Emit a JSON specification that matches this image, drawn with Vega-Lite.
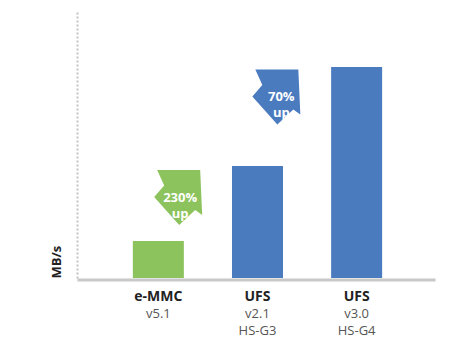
{
  "$schema": "https://vega.github.io/schema/vega-lite/v6.json",
  "width": 358,
  "height": 266,
  "autosize": {"type": "none"},
  "padding": {"left": 77, "top": 12, "right": 33, "bottom": 74},
  "config": {"view": {"stroke": null}, "font": "Open Sans"},
  "datasets": {
    "bars": [
      {"name": "e-MMC v5.1", "pos": 1, "mbps": 370, "kind": "e-MMC"},
      {"name": "UFS v2.1 HS-G3", "pos": 2, "mbps": 1120, "kind": "UFS"},
      {"name": "UFS v3.0 HS-G4", "pos": 3, "mbps": 2110, "kind": "UFS"}
    ],
    "arrows": [
      {"ax": 1.2, "ay": 805, "kind": "e-MMC", "tx": 1.22, "ty": 800, "label": ["230%", "up"]},
      {"ax": 2.19, "ay": 1810, "kind": "UFS", "tx": 2.24, "ty": 1810, "label": ["70%", "up"]}
    ],
    "cats": [
      {"pos": 1, "base": 0, "head": "e-MMC", "sub": ["v5.1"]},
      {"pos": 2, "base": 0, "head": "UFS", "sub": ["v2.1", "HS-G3"]},
      {"pos": 3, "base": 0, "head": "UFS", "sub": ["v3.0", "HS-G4"]}
    ]
  },
  "layer": [
    {
      "data": {"name": "bars"},
      "mark": {"type": "bar", "size": 51},
      "encoding": {
        "x": {
          "field": "pos", "type": "quantitative",
          "scale": {"domain": [0.23, 3.74], "nice": false, "zero": false},
          "axis": {"title": null, "labels": false, "ticks": false, "grid": false, "domainColor": "#c8c8c8", "domainWidth": 3, "offset": 1.5}
        },
        "y": {
          "field": "mbps", "type": "quantitative",
          "scale": {"domain": [0, 2660], "nice": false},
          "axis": {"title": "MB/s", "labels": false, "ticks": false, "grid": false, "domainColor": "#c4c4c4", "domainDash": [2, 2], "domainWidth": 2, "titleAnchor": "start", "titleFontSize": 13, "titleFontWeight": "bold", "titleColor": "#222222", "titlePadding": 14}
        },
        "color": {
          "field": "kind", "type": "nominal",
          "scale": {"domain": ["e-MMC", "UFS"], "range": ["#8cc35c", "#4b7bbf"]},
          "legend": null
        }
      }
    },
    {
      "data": {"name": "arrows"},
      "mark": {"type": "point", "filled": true, "opacity": 1, "size": 2500, "shape": "M0.88,-1.1 L0.96,0.7 L0.68,0.5 L0.04,1.1 L-0.96,-0.02 L-0.56,-0.48 L-0.84,-1.1 Z"},
      "encoding": {
        "x": {"field": "ax", "type": "quantitative", "scale": {"domain": [0.23, 3.74], "nice": false, "zero": false}},
        "y": {"field": "ay", "type": "quantitative", "scale": {"domain": [0, 2660], "nice": false}},
        "color": {"field": "kind", "type": "nominal", "scale": {"domain": ["e-MMC", "UFS"], "range": ["#8cc35c", "#4b7bbf"]}, "legend": null}
      }
    },
    {
      "data": {"name": "arrows"},
      "mark": {"type": "text", "color": "white", "fontSize": 13, "fontWeight": "bold", "lineHeight": 16, "align": "center", "baseline": "middle"},
      "encoding": {
        "x": {"field": "tx", "type": "quantitative"},
        "y": {"field": "ty", "type": "quantitative"},
        "text": {"field": "label"}
      }
    },
    {
      "data": {"name": "cats"},
      "mark": {"type": "text", "color": "#222222", "fontSize": 14, "fontWeight": "bold", "align": "center", "baseline": "middle", "dy": 19},
      "encoding": {
        "x": {"field": "pos", "type": "quantitative"},
        "y": {"field": "base", "type": "quantitative"},
        "text": {"field": "head"}
      }
    },
    {
      "data": {"name": "cats"},
      "mark": {"type": "text", "color": "#555555", "fontSize": 13, "lineHeight": 17, "align": "center", "baseline": "top", "dy": 30},
      "encoding": {
        "x": {"field": "pos", "type": "quantitative"},
        "y": {"field": "base", "type": "quantitative"},
        "text": {"field": "sub"}
      }
    }
  ]
}
